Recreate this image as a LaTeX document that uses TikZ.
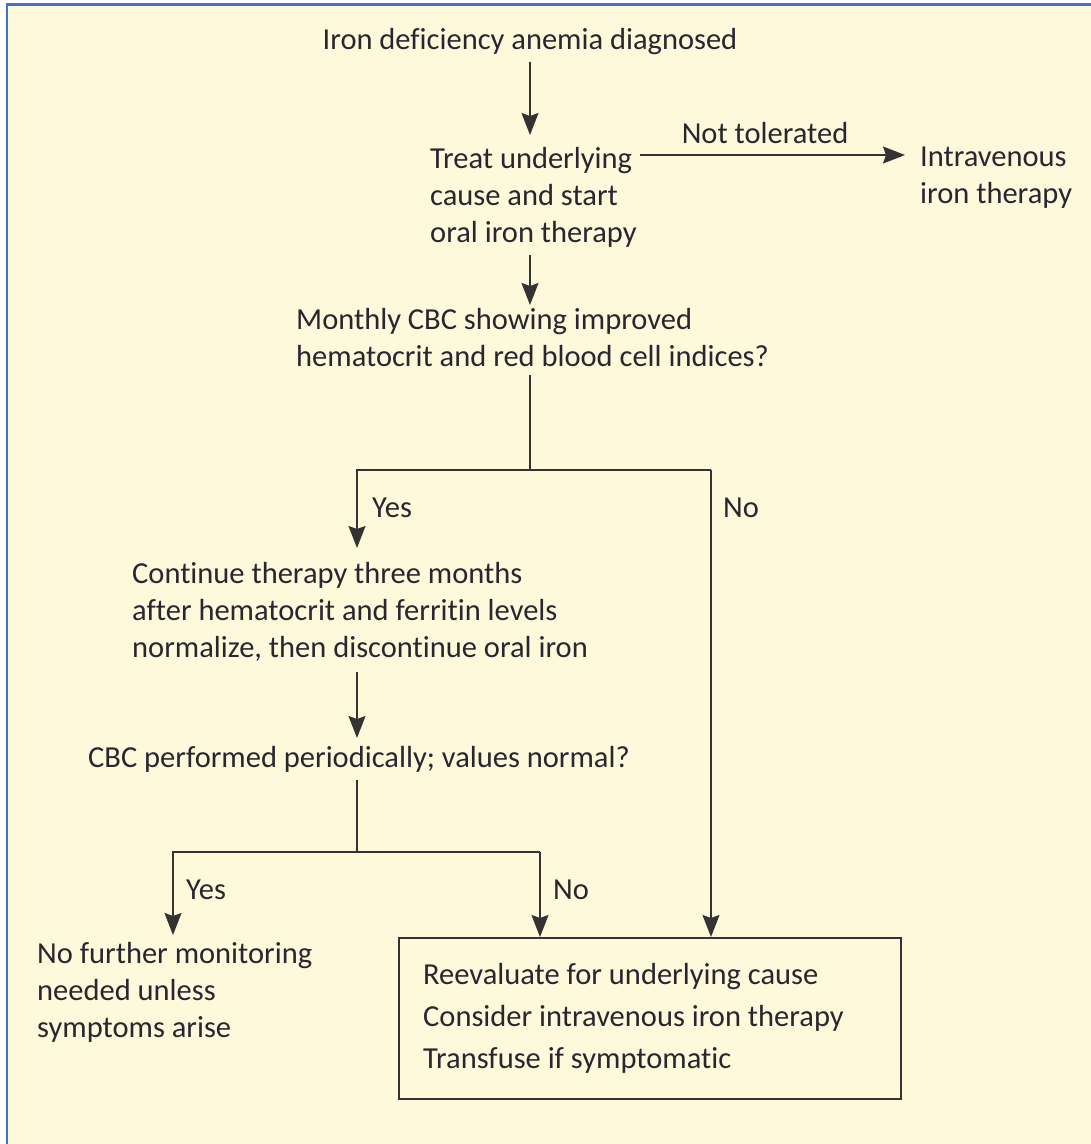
\documentclass[tikz,border=0pt]{standalone}
\usepackage{fontspec}
\setmainfont{Carlito}[Ligatures=NoCommon]
\usetikzlibrary{arrows.meta,calc}
\definecolor{bgcol}{HTML}{FEF9DB}
\definecolor{bordercol}{HTML}{4472C4}
\definecolor{txtcol}{HTML}{2A2630}
\definecolor{linecol}{HTML}{333333}
\newcommand{\fsz}{\fontsize{30.5}{37}\selectfont}
\tikzset{
  txt/.style={font=\fsz, text=txtcol, inner sep=0pt, align=left},
  ln/.style={draw=linecol, line width=1.5pt},
  arr/.style={ln, -{Stealth[length=22pt,width=17pt,inset=3pt]}},
}
\begin{document}
\begin{tikzpicture}[x=1pt,y=-1pt]
\useasboundingbox (0,0) rectangle (1091,1144);
\fill[white] (0,0) rectangle (1091,1144);
\fill[bgcol] (7,4.5) rectangle (1091,1144);
\draw[bordercol, line width=2.5pt] (7,1144) -- (7,4.5) -- (1091,4.5);

% nodes
\node[txt] (title) at (530,42) {Iron deficiency anemia diagnosed};
\node[txt, anchor=west] (treat) at (430,197) {Treat underlying\\cause and start\\oral iron therapy};
\node[txt, anchor=west] (iv) at (920,178) {Intravenous\\iron therapy};
\node[txt, anchor=west] (cbc) at (296,338) {Monthly CBC showing improved\\hematocrit and red blood cell indices?};
\node[txt, anchor=west] (cont) at (132,612) {Continue therapy three months\\after hematocrit and ferritin levels\\normalize, then discontinue oral iron};
\node[txt] (per) at (359,759) {CBC performed periodically; values normal?};
\node[txt, anchor=west] (nofur) at (37,992) {No further monitoring\\needed unless\\symptoms arise};
\node[draw=linecol, line width=1.5pt, minimum width=502pt, minimum height=161pt, inner sep=0pt, anchor=north west] (box) at (398,937) {};
\node[txt, anchor=west, font=\fontsize{30.5}{42}\selectfont] (boxtxt) at (423,1018) {Reevaluate for underlying cause\\Consider intravenous iron therapy\\Transfuse if symptomatic};

% junction coordinates
\coordinate (j1) at (530,470);
\coordinate (jl) at (357,470);
\coordinate (jr) at (711,470);
\coordinate (k1) at (357,852);
\coordinate (kl) at (173,852);
\coordinate (kr) at (540,852);

% connectors
\draw[arr] (title.south -| j1) ++(0,7) -- (530,135);
\draw[arr] (640,155) -- (905,155);
\node[txt] (nt) at (765,133) {Not tolerated};
\draw[arr] (530,255) -- (530,305);
\draw[ln] (530,375) -- (j1);
\draw[arr] (jr) -- (jl) -- (357,548);
\draw[arr] (jr) -- (jr |- box.north);
\node[txt, anchor=west] (yes1) at (372,508) {Yes};
\node[txt, anchor=west] (no1) at (723,508) {No};
\draw[arr] (357,672) -- (357,738);
\draw[ln] (357,780) -- (k1);
\draw[arr] (kr) -- (kl) -- (173,935);
\draw[arr] (kr) -- (kr |- box.north);
\node[txt, anchor=west] (yes2) at (186,890) {Yes};
\node[txt, anchor=west] (no2) at (553,890) {No};
\end{tikzpicture}
\end{document}
